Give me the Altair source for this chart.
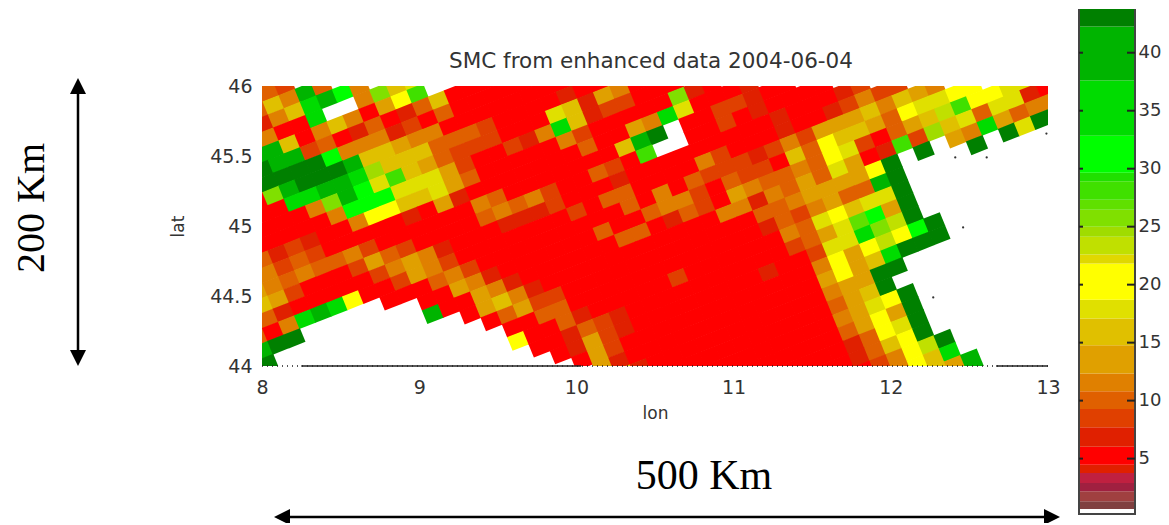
import altair as alt
import pandas as pd

# SMC values on the slanted swath grid: one string per swath row, "." = no data
ROW_STARTS = [0,-1,-1,-1,-2,-2,-2,-3,-3,-3,-4,-4,-4,-5,-5,-5,-6,-6,-6,-6,-6,-3,-1,2,4,6,8,10,12,13,15,17,19,21,23,25,27,29,31]
ROW_CODES = [
"3",
"332",
"364F3",
"146EFD4",
"44RRE..4A67",
"FF6R464R5YC..",
"GFF23R13R136RRR",
"GGGGGD44412R3RRRRR",
"RAFGGGF66544RRRRRRRR",
"RREEFFE96663332RRRR1RR",
"RRRR4AFD7C653222RRR76154R",
"RRRRR4DDD77752RR214E6122RRR",
"3121RR4YY66753RRRRR42RRRRRA1R",
"44232RRRRR1R51RRRRRRR3RR54E7RRR1",
"54343342RRRRRR43RRRRRRR6FG.RR221RR",
"652RRR2532RRRR34342RR32RC..RR2R1RRRR",
"631RRRRR24541RRR1112RRR1RRRRRRRRR1RRR12",
"3R4EFEYRR2542RRRRRRR2R33RRRR42RRR1RR12422",
"FGG.....RRR342RRRRRRRRR3R4R3222124255564654",
"G.........RR541RRRRRR3RR3442R322R63Y6653Y77YY",
"..........FRR541RRRRRR33R132R543343Y72R3568CYY77",
".........R5641RRRRRRRRRRR441435375R1C29673771R",
"........R3522RRRRRRRRRRRR3345555YG.G.54E5344",
"......RR33RRRRRRRRRRRR1324533FG....G.G7GG",
"....YRR31RRRRR2RRRRRR437Y677G.",
"...RR1321RRRRRRRRRR2357BD5G.",
"..R1521RRRRRRRR1RR277EA8G.",
".R52RRRRRRRRRRRR4Y5Y8YDG.",
"51RRRRRRRRRRRR5Y56EGGG.",
"61RRRRRRRRRRR455GG.",
"RRRRRRRRRRR356G.",
"RRRRRRRRR457YG.",
"RRRRRRR35Y5G.",
"RRRRR13Y7G.",
"RRR136YG.",
"RR24Y8G.",
"R4Y6E.",
"Y65F.",
"5F.",
]
CODE_VALUES = {"R":5.2,"1":7,"2":8.5,"3":10,"4":11.5,"5":13.5,"6":16,"7":18,"Y":20,
               "8":23.3,"9":24.5,"A":25.7,"B":27,"C":28,"D":31,"E":35,"F":40,"G":43}

# swath grid geometry, degrees
GRID_LON0, GRID_LAT0 = 8.0064, 46.05
COL_STEP = (0.1018, 0.045)
ROW_STEP = (0.0337, -0.0929)

# colour bar bands
BAND_EDGES = [0.31,0.65,1.32,2.19,2.89,3.76,4.48,6.02,7.7,9.27,10.8,12.34,14.77,17.09,18.69,21.82,
              22.6,24.14,25,26.46,27.33,28.92,29.65,32.84,37.6,42.26,43.77]
BAND_COLORS = ["#ffffff","#804040","#a04040","#a02040","#c02040","#e02000","#ff0000","#e02000","#e04000",
               "#e06000","#e08000","#e0a000","#e0c000","#e0e000","#ffff00","#e0d800","#c0e000","#a0dc00",
               "#80e000","#60e000","#40e000","#20e000","#00ff00","#00dc00","#00b400","#008000"]
CBAR_TICKS = [5,10,15,20,25,30,35,40]

# stray points and the broken frame along the southern edge
DOT_LON = [12.41,12.61,12.99,12.46,12.27]
DOT_LAT = [45.49,45.49,45.66,44.99,44.49]
EDGE_START = [8.25,12.67]
EDGE_END = [10.03,13.0]

PLOT_W, PLOT_H = 786, 280
FONT = "DejaVu Sans"
INK = "#333333"

cells = []
for j, (start, codes) in enumerate(zip(ROW_STARTS, ROW_CODES)):
    for k, c in enumerate(codes):
        if c == ".":
            continue
        i = start + k
        cells.append({"lon": GRID_LON0 + i*COL_STEP[0] + j*ROW_STEP[0],
                      "lat": GRID_LAT0 + i*COL_STEP[1] + j*ROW_STEP[1],
                      "smc": CODE_VALUES[c]})
cells = pd.DataFrame(cells)
bands = pd.DataFrame({"low": BAND_EDGES[:-1], "high": BAND_EDGES[1:], "color": BAND_COLORS})
one = pd.DataFrame({"a": [0]})

xs = alt.Scale(domain=[8,13], range=[0,PLOT_W], nice=False, zero=False)
ys = alt.Scale(domain=[44,46], range=[PLOT_H,0], nice=False, zero=False)
cbs = alt.Scale(domain=[BAND_EDGES[0],BAND_EDGES[-1]], range=[427,-77], nice=False, zero=False)
cmap = alt.Scale(type="threshold", domain=BAND_EDGES[1:-1], range=BAND_COLORS)

CELL = "M-0.968 -0.305 L0.486 -0.877 L0.968 0.305 L-0.486 0.877 Z"

heat = alt.Chart(cells).mark_point(shape=CELL, filled=True, opacity=1, size=530, clip=True).encode(
    x=alt.X("lon:Q", scale=xs, axis=alt.Axis(title="lon", values=[8,9,10,11,12,13], grid=False, domain=False, ticks=False,
            labelFlush=False, labelOverlap=False,
            labelFont=FONT, labelFontSize=19, labelColor=INK, labelPadding=12, titleFont=FONT, titleFontSize=17,
            titleFontWeight="normal", titleColor=INK, titlePadding=8)),
    y=alt.Y("lat:Q", scale=ys, axis=alt.Axis(title="lat", values=[44,44.5,45,45.5,46], format="~g", grid=False, domain=False, ticks=False,
            labelFlush=False, labelOverlap=False,
            labelFont=FONT, labelFontSize=19, labelColor=INK, labelPadding=10, titleFont=FONT, titleFontSize=17,
            titleFontWeight="normal", titleColor=INK, titlePadding=22)),
    color=alt.Color("smc:Q", scale=cmap, legend=None),
)

edge_dots = alt.Chart(pd.DataFrame({"a":[8.0],"b":[13.0],"lat":[44.0]})).mark_rule(color="#222222", strokeWidth=1.5, strokeDash=[1,4]).encode(
    x=alt.X("a:Q", scale=xs, axis=None), x2="b:Q", y=alt.Y("lat:Q", scale=ys, axis=None))
edge_solid = alt.Chart(pd.DataFrame({"a":EDGE_START,"b":EDGE_END,"lat":[44.0,44.0]})).mark_rule(color="#222222", strokeWidth=1.5).encode(
    x=alt.X("a:Q", scale=xs, axis=None), x2="b:Q", y=alt.Y("lat:Q", scale=ys, axis=None))
dots = alt.Chart(pd.DataFrame({"lon":DOT_LON,"lat":DOT_LAT})).mark_point(filled=True, color="#333333", size=5, opacity=1).encode(
    x=alt.X("lon:Q", scale=xs, axis=None), y=alt.Y("lat:Q", scale=ys, axis=None))

title = alt.Chart(one).mark_text(text="SMC from enhanced data 2004-06-04", font=FONT, fontSize=21.5, color=INK, align="center", baseline="middle").encode(
    x=alt.value(389), y=alt.value(-24))

cbar = alt.Chart(bands).mark_rect().encode(
    x=alt.value(817), x2=alt.value(873),
    y=alt.Y("low:Q", scale=cbs, axis=alt.Axis(orient="right", offset=87, title=None, values=CBAR_TICKS, grid=False, domain=False, ticks=False,
            labelFlush=False, labelOverlap=False,
            labelFont=FONT, labelFontSize=18, labelColor=INK, labelPadding=3)),
    y2="high:Q",
    color=alt.Color("color:N", scale=None),
)
cbar_frame_l = alt.Chart(one).mark_rule(color="#444444", strokeWidth=2).encode(x=alt.value(817), y=alt.value(-77), y2=alt.value(428))
cbar_frame_r = alt.Chart(one).mark_rule(color="#444444", strokeWidth=2).encode(x=alt.value(873), y=alt.value(-77), y2=alt.value(428))
cbar_frame_b = alt.Chart(one).mark_rule(color="#444444", strokeWidth=2).encode(x=alt.value(816), x2=alt.value(874), y=alt.value(428))
tick_df = pd.DataFrame({"t": CBAR_TICKS})
cbar_tl = alt.Chart(tick_df).mark_rule(color="#222222", strokeWidth=2).encode(
    x=alt.value(817), x2=alt.value(821), y=alt.Y("t:Q", scale=cbs, axis=None))
cbar_tr = alt.Chart(tick_df).mark_rule(color="#222222", strokeWidth=2).encode(
    x=alt.value(865), x2=alt.value(873), y=alt.Y("t:Q", scale=cbs, axis=None))

# dimension arrows
v_line = alt.Chart(one).mark_rule(color="black", strokeWidth=2.5).encode(x=alt.value(-184), y=alt.value(0), y2=alt.value(270))
v_top = alt.Chart(one).mark_point(shape="M0 -1 L1 1 L-1 1 Z", filled=True, color="black", opacity=1, size=256).encode(x=alt.value(-184), y=alt.value(0))
v_bot = alt.Chart(one).mark_point(shape="M0 1 L1 -1 L-1 -1 Z", filled=True, color="black", opacity=1, size=256).encode(x=alt.value(-184), y=alt.value(272))
h_line = alt.Chart(one).mark_rule(color="black", strokeWidth=2.5).encode(x=alt.value(20), x2=alt.value(790), y=alt.value(431))
h_left = alt.Chart(one).mark_point(shape="M-1 0 L1 -1 L1 1 Z", filled=True, color="black", opacity=1, size=256).encode(x=alt.value(20), y=alt.value(431))
h_right = alt.Chart(one).mark_point(shape="M1 0 L-1 -1 L-1 1 Z", filled=True, color="black", opacity=1, size=256).encode(x=alt.value(790), y=alt.value(431))
t500 = alt.Chart(one).mark_text(text="500 Km", font="Liberation Serif", fontSize=42, color="black", align="center", baseline="middle").encode(
    x=alt.value(442), y=alt.value(390))
t200 = alt.Chart(one).mark_text(text="200 Km", font="Liberation Serif", fontSize=40, color="black", align="center", baseline="middle", angle=270).encode(
    x=alt.value(-230), y=alt.value(122))

chart = alt.layer(heat, edge_dots, edge_solid, dots, title, cbar, cbar_frame_l, cbar_frame_r, cbar_frame_b, cbar_tl, cbar_tr,
                  v_line, v_top, v_bot, h_line, h_left, h_right, t500, t200
).resolve_scale(x="independent", y="independent", color="independent").properties(
    width=PLOT_W, height=PLOT_H,
    padding={"left":254,"top":78,"right":113,"bottom":157},
    autosize=alt.AutoSizeParams(type="none"),
).configure_view(stroke=None)

chart.save("out.html", embed_options={"renderer": "svg", "actions": False})
